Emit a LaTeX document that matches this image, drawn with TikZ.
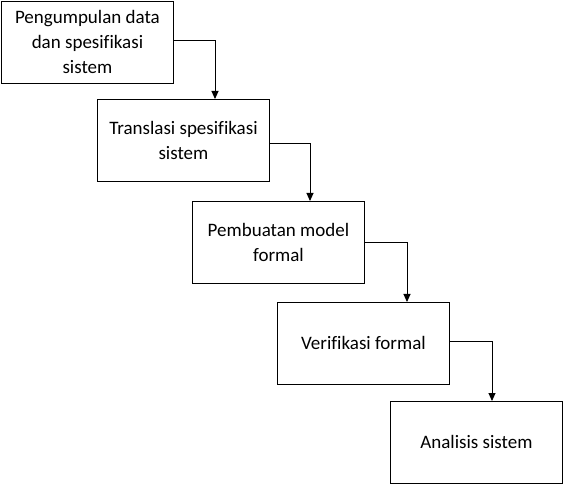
\documentclass[tikz,border=0pt]{standalone}
\usepackage{fontspec}
\setmainfont[Ligatures={NoCommon}]{Carlito}
\usetikzlibrary{arrows.meta}
\begin{document}
\begin{tikzpicture}[x=1pt,y=-1pt,
  stepbox/.style={draw=black,line width=0.9pt,minimum width=172pt,minimum height=82pt,inner sep=0pt,align=center,font=\fontsize{19}{25}\selectfont,anchor=north west},
  conn/.style={draw=black,line width=0.9pt,-{Triangle[width=7pt,length=8pt]}}]
\useasboundingbox (0,0) rectangle (565,486);
\node[stepbox] (b1) at (1,1) {Pengumpulan data\\dan spesifikasi\\sistem};
\node[stepbox] (b2) at (97,99) {Translasi spesifikasi\\sistem};
\node[stepbox] (b3) at (192,201) {Pembuatan model\\formal};
\node[stepbox] (b4) at (277,302) {Verifikasi formal};
\node[stepbox] (b5) at (390,401) {Analisis sistem};
\coordinate (c1) at (215,40);
\coordinate (c2) at (310,143);
\coordinate (c3) at (407,242);
\coordinate (c4) at (492,341);
\draw[conn] (b1.east |- c1) -- (c1) -- (c1 |- b2.north);
\draw[conn] (b2.east |- c2) -- (c2) -- (c2 |- b3.north);
\draw[conn] (b3.east |- c3) -- (c3) -- (c3 |- b4.north);
\draw[conn] (b4.east |- c4) -- (c4) -- (c4 |- b5.north);
\end{tikzpicture}
\end{document}
